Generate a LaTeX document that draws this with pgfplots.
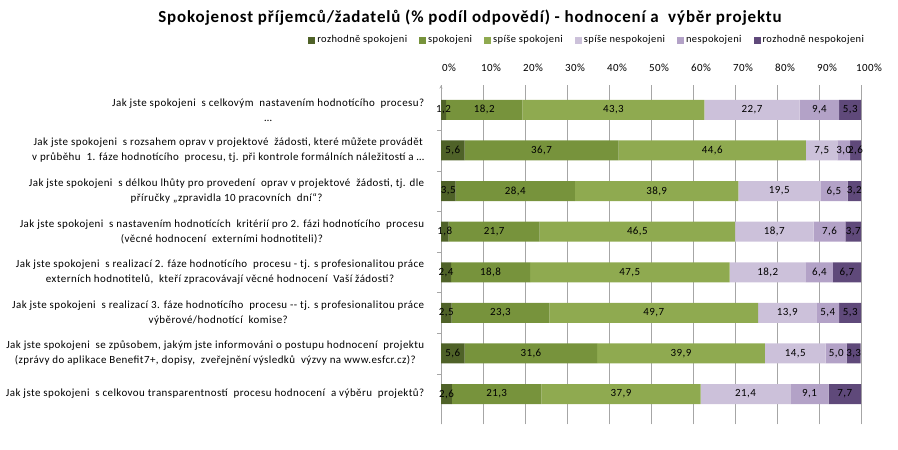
\documentclass[border=0pt]{standalone}
\usepackage{pgfplots}
\pgfplotsset{compat=1.18}
\usepackage{pgfplotstable}
\usepackage{fontspec}
\setmainfont{Carlito}
\newfontfamily\lbl[LetterSpace=4]{Carlito}
\newfontfamily\ttl[LetterSpace=5]{Carlito}

\definecolor{c1}{HTML}{4F6228}
\definecolor{c2}{HTML}{77933C}
\definecolor{c3}{HTML}{8FAA50}
\definecolor{c4}{HTML}{CCC1DA}
\definecolor{c5}{HTML}{B3A2C7}
\definecolor{c6}{HTML}{5F497A}
\definecolor{gridgray}{HTML}{A6A6A6}

\pgfplotstableread{
y a b c d e f
8 1.2 18.2 43.3 22.7 9.4 5.3
7 5.6 36.7 44.6 7.5 3.0 2.6
6 3.5 28.4 38.9 19.5 6.5 3.2
5 1.8 21.7 46.5 18.7 7.6 3.7
4 2.4 18.8 47.5 18.2 6.4 6.7
3 2.5 23.3 49.7 13.9 5.4 5.3
2 5.6 31.6 39.9 14.5 5.0 3.3
1 2.6 21.3 37.9 21.4 9.1 7.7
}\data

\begin{document}
\begin{tikzpicture}
\useasboundingbox (0bp,0bp) rectangle (898bp,450bp);
\pgfplotsset{
  common/.style={
    at={(441bp,25.5bp)}, anchor=south west,
    scale only axis, width=420bp, height=339bp,
    xmin=0, xmax=100, ymin=0.25, ymax=8.6,
    /pgf/number format/assume math mode=true,
  }
}
\begin{axis}[
  common,
  xbar stacked, bar width=20bp,
  axis x line=top, axis y line=left,
  x axis line style={draw=none},
  y axis line style={draw=gridgray},
  xtick={0,10,...,100},
  xticklabel={\pgfmathprintnumber{\tick}\%},
  xticklabel style={font=\lbl\fontsize{11}{12}\selectfont, yshift=6bp, xshift=8bp},
  xtick style={draw=none},
  xmajorgrids, grid style={gridgray, line width=0.6pt},
  ytick={1,...,8},
  major y tick style={draw=none},
  minor ytick={1.5,2.5,...,7.5},
  minor y tick style={draw=gridgray},
  minor tick length=4bp,
  tick align=outside,
  yticklabels={
    {Jak jste spokojeni\ \ s celkovou transparentností\ \ procesu hodnocení\ \ a výběru\ \ projektů?},
    {Jak jste spokojeni\ \ se způsobem, jakým jste informováni o postupu hodnocení\ \ projektu\\(zprávy do aplikace Benefit7+, dopisy,\ \ zveřejnění výsledků\ \ výzvy na www.esfcr.cz)?},
    {Jak jste spokojeni\ \ s realizací 3. fáze hodnotícího\ \ procesu -- tj. s profesionalitou práce\\výběrové/hodnotící\ \ komise?},
    {Jak jste spokojeni\ \ s realizací 2. fáze hodnotícího\ \ procesu - tj. s profesionalitou práce\\externích hodnotitelů,\ \ kteří zpracovávají věcné hodnocení\ \ Vaší žádosti?},
    {Jak jste spokojeni\ \ s nastavením hodnotících\ \ kritérií pro 2. fázi hodnotícího\ \ procesu\\(věcné hodnocení\ \ externími hodnotiteli)?},
    {Jak jste spokojeni\ \ s délkou lhůty pro provedení\ \ oprav v projektové\ \ žádosti, tj. dle\\příručky „zpravidla 10 pracovních\ \ dní“?},
    {Jak jste spokojeni\ \ s rozsahem oprav v projektové\ \ žádosti, které můžete provádět\\v průběhu\ \ 1. fáze hodnotícího\ \ procesu, tj. při kontrole formálních náležitostí a \dots},
    {Jak jste spokojeni\ \ s celkovým\ \ nastavením hodnotícího\ \ procesu?\\\dots}
  },
  yticklabel style={align=center, font=\lbl\fontsize{11}{15}\selectfont, xshift=-9bp},
  legend columns=6,
  legend style={draw=none, fill=none, at={(axis description cs:0.348,1.134)}, anchor=center,
    font=\lbl\fontsize{10.5}{12}\selectfont, /tikz/every even column/.append style={column sep=10bp}},
  legend image code/.code={\fill[#1] (0bp,-3.5bp) rectangle (7bp,3.5bp);},
]
\addplot[fill=c1, draw=none] table[x=a, y=y]{\data};
\addplot[fill=c2, draw=none] table[x=b, y=y]{\data};
\addplot[fill=c3, draw=none] table[x=c, y=y]{\data};
\addplot[fill=c4, draw=none] table[x=d, y=y]{\data};
\addplot[fill=c5, draw=none] table[x=e, y=y]{\data};
\addplot[fill=c6, draw=none] table[x=f, y=y]{\data};
\legend{rozhodně spokojeni, spokojeni, spíše spokojeni, spíše nespokojeni, nespokojeni, rozhodně nespokojeni}
\end{axis}
\begin{axis}[
  common, hide axis, clip=false,
  nodes near coords={\pgfmathprintnumber[fixed,fixed zerofill,precision=1,use comma]{\pgfplotspointmeta}},
  every node near coord/.style={anchor=center, inner sep=0pt, font=\lbl\fontsize{11}{12}\selectfont, text=black},
]
\addplot[draw=none, mark=none, point meta=explicit] table[x expr=\thisrow{a}/2, y=y, meta=a]{\data};
\addplot[draw=none, mark=none, point meta=explicit] table[x expr=\thisrow{a}+\thisrow{b}/2, y=y, meta=b]{\data};
\addplot[draw=none, mark=none, point meta=explicit] table[x expr=\thisrow{a}+\thisrow{b}+\thisrow{c}/2, y=y, meta=c]{\data};
\addplot[draw=none, mark=none, point meta=explicit] table[x expr=\thisrow{a}+\thisrow{b}+\thisrow{c}+\thisrow{d}/2, y=y, meta=d]{\data};
\addplot[draw=none, mark=none, point meta=explicit] table[x expr=\thisrow{a}+\thisrow{b}+\thisrow{c}+\thisrow{d}+\thisrow{e}/2, y=y, meta=e]{\data};
\addplot[draw=none, mark=none, point meta=explicit] table[x expr=\thisrow{a}+\thisrow{b}+\thisrow{c}+\thisrow{d}+\thisrow{e}+\thisrow{f}/2, y=y, meta=f]{\data};
\end{axis}
\node[font=\ttl\bfseries\fontsize{17}{20}\selectfont] at (470bp,432bp) {Spokojenost příjemců/žadatelů (\% podíl odpovědí) - hodnocení a\ \ výběr projektu};
\end{tikzpicture}
\end{document}
